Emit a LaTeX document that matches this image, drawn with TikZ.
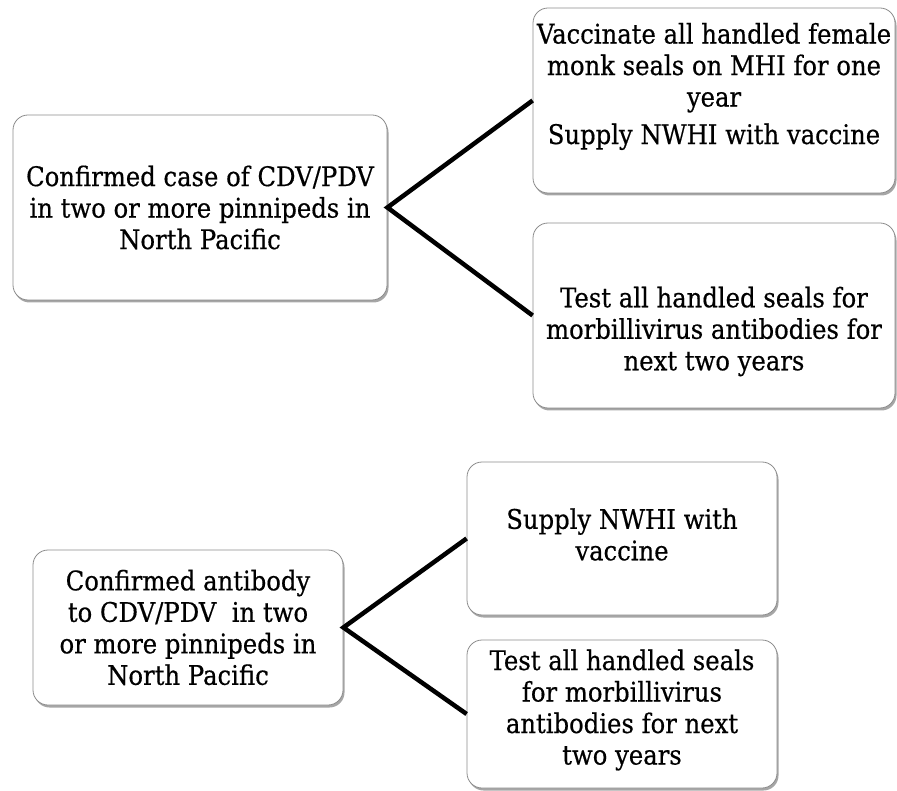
\documentclass[tikz,border=0pt]{standalone}
\usepackage{fontspec}
\setmainfont[FakeStretch=0.9,FakeBold=0.5]{DejaVu Serif}
\usetikzlibrary{shadows,calc}

\begin{document}
\begin{tikzpicture}[x=1pt,y=-1pt,
  box/.style={draw=black!45, line width=0.8pt, rounded corners=15pt, fill=white,
    drop shadow={shadow xshift=1.5pt, shadow yshift=-2.5pt, fill=black, opacity=0.35},
    inner sep=0pt},
  txt/.style={align=center, inner sep=0pt,
    font=\fontsize{27}{31.5}\selectfont},
  link/.style={line width=4.5pt, line join=miter},
]
\useasboundingbox (0,0) rectangle (897,791);

% upper decision: confirmed case
\node[box, minimum width=374pt, minimum height=185pt] (b1) at (200,207.5) {};
\node[txt] (t1) at (b1) {Confirmed case of CDV/PDV\\in two or more pinnipeds in\\North Pacific};

\node[box, minimum width=362pt, minimum height=185pt] (b2) at (714,100.5) {};
\node[txt] (t2) at ($(b2)+(0,-14)$) {Vaccinate all handled female\\monk seals on MHI for one\\year\\[6pt]Supply NWHI with vaccine};

\node[box, minimum width=362pt, minimum height=185pt] (b3) at (714,315.5) {};
\node[txt] (t3) at ($(b3)+(0,16)$) {Test all handled seals for\\morbillivirus antibodies for\\next two years};

\draw[link] (b2.west) -- (b1.east) -- (b3.west);

% lower decision: confirmed antibody
\node[box, minimum width=310pt, minimum height=155pt] (b4) at (188,627.5) {};
\node[txt] (t4) at (b4) {Confirmed antibody\\to CDV/PDV\ \ in two\\or more pinnipeds in\\North Pacific};

\node[box, minimum width=310pt, minimum height=153pt] (b5) at (622,538.5) {};
\node[txt] (t5) at ($(b5)+(0,-4)$) {Supply NWHI with\\vaccine};

\node[box, minimum width=310pt, minimum height=148pt] (b6) at (622,714) {};
\node[txt] (t6) at ($(b6)+(0,-4)$) {Test all handled seals\\for morbillivirus\\antibodies for next\\two years};

\draw[link] (b5.west) -- (b4.east) -- (b6.west);
\end{tikzpicture}
\end{document}
